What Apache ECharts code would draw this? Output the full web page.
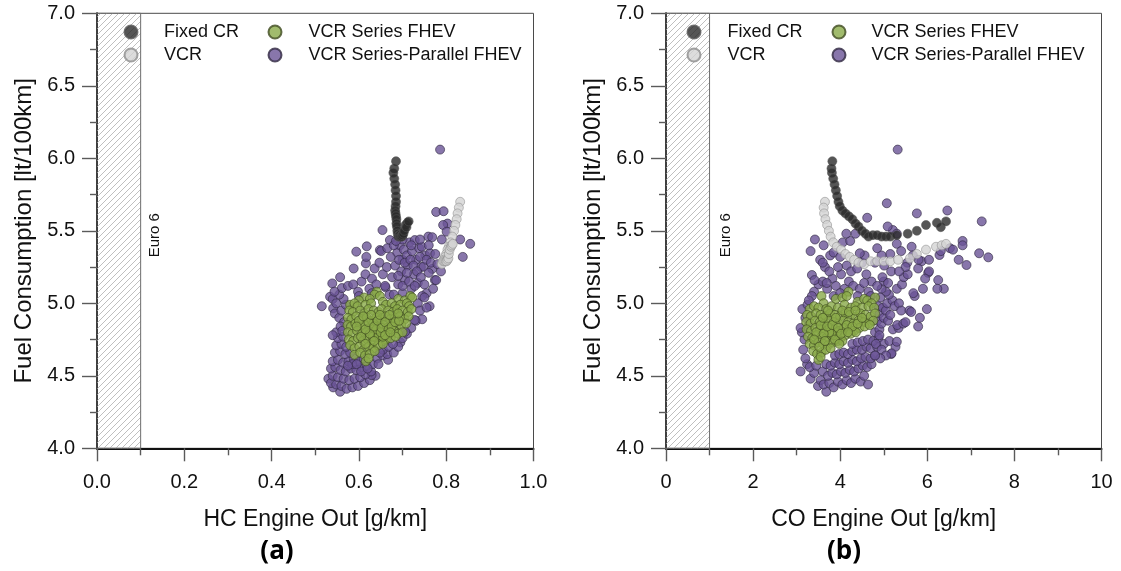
<!DOCTYPE html>
<html><head><meta charset="utf-8">
<script src="https://cdn.jsdelivr.net/npm/echarts@6/dist/echarts.min.js"></script>
<style>html,body{margin:0;padding:0;background:#fff}#c{width:1121px;height:571px}</style>
</head><body><div id="c"></div>
<script>
// ---------- DATA ----------
const seriesNames = ['Fixed CR','VCR','VCR Series FHEV','VCR Series-Parallel FHEV'];
const panelLabels = ['(a)','(b)'];
const xTitles = ['HC Engine Out [g/km]','CO Engine Out [g/km]'];
const yTitle = 'Fuel Consumption [lt/100km]';
const euroLimits = [0.1, 1.0];
const euroLabel = 'Euro 6';

// Fixed CR sweep (shared fuel consumption)
const fixedCrFC = [5.98,5.93,5.90,5.86,5.82,5.78,5.74,5.70,5.67,5.64,5.62,5.60,5.58,5.55,5.53,5.50,5.48,5.46,5.47,5.47,5.46,5.46,5.46,5.47,5.48,5.50,5.54,5.555,5.525,5.565];
const fixedCrHC = [0.685,0.681,0.679,0.681,0.683,0.684,0.685,0.685,0.684,0.683,0.684,0.685,0.686,0.686,0.687,0.688,0.689,0.690,0.692,0.694,0.695,0.697,0.699,0.700,0.702,0.704,0.707,0.711,0.709,0.714];
const fixedCrCO = [3.82,3.80,3.81,3.84,3.87,3.90,3.93,3.96,3.99,4.05,4.12,4.20,4.28,4.35,4.42,4.50,4.58,4.65,4.75,4.85,4.95,5.05,5.15,5.30,5.55,5.76,5.97,6.22,6.31,6.43];

// VCR sweep
const vcrFC = [5.70,5.66,5.62,5.58,5.54,5.50,5.46,5.42,5.39,5.37,5.34,5.32,5.30,5.28,5.27,5.29,5.29,5.29,5.29,5.30,5.31,5.34,5.37,5.39,5.40,5.41];
const vcrHC = [0.832,0.829,0.826,0.824,0.821,0.818,0.814,0.810,0.806,0.803,0.800,0.797,0.794,0.791,0.790,0.793,0.796,0.799,0.801,0.803,0.805,0.806,0.808,0.811,0.813,0.815];
const vcrCO = [3.65,3.62,3.63,3.66,3.70,3.74,3.78,3.84,3.92,4.02,4.12,4.22,4.32,4.42,4.55,4.70,4.85,5.00,5.15,5.33,5.60,5.76,5.97,6.20,6.33,6.43];

// VCR Series FHEV, HC panel [HC, FC]
const hcSeries = [
[0.612,5.04],[0.641,5.08],[0.636,5.06],[0.648,5.05],[0.690,5.03],[0.705,5.02],[0.718,5.05],[0.722,5.04],[0.600,5.02],[0.625,5.03],
[0.580,4.99],[0.590,5.00],[0.597,4.98],[0.615,4.99],[0.628,5.00],[0.655,5.01],[0.662,4.99],[0.675,5.00],[0.683,4.98],[0.695,4.99],[0.710,5.00],[0.715,4.98],
[0.578,4.95],[0.586,4.94],[0.603,4.95],[0.612,4.93],[0.622,4.96],[0.634,4.95],[0.645,4.94],[0.652,4.96],[0.667,4.95],[0.678,4.94],[0.688,4.96],[0.700,4.95],[0.712,4.94],[0.720,4.96],
[0.575,4.90],[0.583,4.89],[0.594,4.91],[0.606,4.89],[0.618,4.90],[0.629,4.88],[0.640,4.90],[0.651,4.89],[0.661,4.91],[0.672,4.89],[0.683,4.90],[0.694,4.91],[0.705,4.89],[0.714,4.91],
[0.574,4.85],[0.582,4.84],[0.592,4.86],[0.603,4.84],[0.613,4.85],[0.624,4.83],[0.633,4.86],[0.644,4.84],[0.655,4.85],[0.664,4.83],[0.676,4.86],[0.686,4.84],[0.697,4.85],[0.708,4.86],
[0.575,4.80],[0.585,4.79],[0.596,4.81],[0.607,4.79],[0.617,4.80],[0.627,4.78],[0.638,4.81],[0.648,4.79],[0.659,4.80],[0.669,4.78],[0.680,4.81],[0.690,4.79],[0.700,4.80],
[0.577,4.75],[0.587,4.74],[0.598,4.76],[0.609,4.74],[0.620,4.75],[0.630,4.73],[0.641,4.76],[0.652,4.74],[0.662,4.75],[0.673,4.76],[0.684,4.77],
[0.580,4.71],[0.590,4.69],[0.601,4.70],[0.611,4.68],[0.622,4.70],[0.633,4.69],[0.644,4.71],[0.655,4.72],
[0.590,4.645],[0.603,4.66],[0.614,4.64],[0.625,4.65],[0.636,4.67],[0.616,4.60],[0.622,4.62],
[0.632,4.77],[0.645,4.78],[0.655,4.77],[0.640,4.82],[0.650,4.80],[0.625,4.79],
[0.605,4.77],[0.615,4.82],[0.622,4.87],[0.635,4.84],[0.643,4.88],[0.652,4.83],[0.660,4.87],[0.668,4.82],[0.675,4.84],[0.683,4.87],[0.692,4.88],[0.628,4.92],[0.648,4.92],[0.670,4.92],[0.690,4.93],[0.600,4.88],[0.610,4.91],[0.595,4.84],[0.660,4.78],[0.635,4.74],[0.615,4.72],[0.672,4.80]
];

// VCR Series-Parallel FHEV, HC panel [HC, FC]
const hcSeriesParallel = [
[0.557,4.39],[0.541,4.42],[0.530,4.48],[0.536,4.45],[0.548,4.44],[0.560,4.43],[0.572,4.41],[0.585,4.42],[0.598,4.43],[0.612,4.45],[0.625,4.47],[0.638,4.50],[0.629,4.505],
[0.540,4.50],[0.552,4.49],[0.565,4.48],[0.578,4.47],[0.590,4.48],[0.603,4.49],[0.615,4.51],[0.628,4.53],
[0.536,4.55],[0.546,4.56],[0.558,4.54],[0.570,4.53],[0.582,4.55],[0.594,4.54],[0.606,4.56],[0.618,4.57],[0.632,4.58],
[0.540,4.60],[0.552,4.61],[0.564,4.59],[0.576,4.60],[0.588,4.62],[0.600,4.60],[0.611,4.62],[0.642,4.62],[0.655,4.64],
[0.545,4.66],[0.557,4.67],[0.569,4.65],[0.580,4.66],[0.548,4.71],[0.560,4.72],[0.571,4.70],[0.552,4.76],[0.564,4.77],[0.548,4.80],[0.540,4.78],
[0.585,4.58],[0.575,4.57],[0.595,4.58],[0.605,4.53],[0.620,4.55],
[0.667,4.61],[0.665,4.65],[0.680,4.66],[0.695,4.73],[0.690,4.70],[0.655,4.68],[0.668,4.70],[0.678,4.72],[0.700,4.76],[0.710,4.79],[0.720,4.83],[0.648,4.66],[0.645,4.58],
[0.515,4.98],[0.541,4.965],[0.534,5.045],[0.540,5.03],[0.545,4.93],[0.555,4.90],[0.560,4.95],[0.566,4.87],[0.558,4.84],[0.570,4.99],[0.565,5.03],[0.555,5.06],[0.548,5.00],[0.562,4.81],
[0.539,5.137],[0.557,5.18],[0.561,5.105],[0.544,5.08],[0.575,5.12],[0.588,5.24],[0.594,5.356],[0.587,5.13],[0.598,5.08],[0.606,5.15],[0.616,5.275],[0.617,5.32],[0.618,5.393],[0.615,5.20],[0.624,5.10],[0.630,5.17],[0.636,5.24],[0.647,5.28],[0.648,5.367],[0.651,5.36],[0.654,5.505],[0.655,5.20],[0.661,5.11],[0.664,5.25],[0.671,5.436],[0.673,5.32],[0.676,5.18],[0.683,5.26],[0.688,5.35],[0.690,5.13],[0.694,5.40],[0.697,5.22],[0.700,5.30],[0.703,5.37],[0.706,5.16],[0.710,5.33],[0.712,5.26],[0.716,5.42],[0.720,5.10],[0.722,5.36],[0.726,5.20],[0.728,5.436],[0.731,5.30],[0.735,5.14],[0.738,5.38],[0.742,5.25],[0.744,5.39],[0.748,5.252],[0.752,5.33],[0.755,5.07],[0.759,5.46],[0.763,5.345],[0.768,5.237],[0.768,5.456],[0.774,5.16],[0.760,5.40],[0.745,5.05],[0.735,5.00],[0.740,4.95],[0.731,4.879],[0.745,4.89],[0.750,5.04],[0.728,4.885],[0.706,4.804],
[0.600,5.05],[0.630,5.07],[0.670,5.06],[0.700,5.07],[0.660,5.12],[0.640,5.13],[0.690,5.19],[0.710,5.21],[0.680,5.06],
[0.665,5.38],[0.680,5.40],[0.692,5.30],[0.705,5.28],[0.718,5.30],[0.725,5.26],[0.733,5.22],[0.740,5.32],[0.755,5.30],[0.700,5.12],[0.715,5.15],[0.728,5.12],[0.742,5.18],[0.750,5.13],[0.760,5.21],[0.765,5.28],[0.740,5.44],[0.720,5.40],[0.700,5.44],[0.685,5.43],
[0.786,6.06],[0.777,5.63],[0.794,5.635],[0.803,5.55],[0.855,5.41],[0.838,5.32],[0.832,5.44],[0.777,5.16],[0.790,5.44],[0.775,5.34],[0.780,5.27],[0.788,5.22],[0.770,5.10],[0.762,4.98],[0.755,4.97],[0.793,5.54],[0.801,5.494]
];

// VCR Series FHEV, CO panel [CO, FC]
const coSeries = [
[3.57,5.05],[3.62,5.00],[3.90,5.03],[4.05,5.04],[4.19,5.08],[4.15,5.05],[4.40,5.01],[4.55,5.03],[4.62,5.02],[4.80,5.04],[4.72,5.00],
[3.30,4.96],[3.40,4.98],[3.50,4.97],[3.68,4.96],[3.80,4.98],[3.95,4.97],[4.10,4.99],[4.25,4.97],[4.35,4.98],[4.50,4.97],[4.65,4.98],[4.78,4.97],
[3.24,4.92],[3.33,4.91],[3.45,4.93],[3.55,4.92],[3.66,4.91],[3.77,4.93],[3.88,4.92],[4.00,4.91],[4.12,4.93],[4.23,4.92],[4.35,4.91],[4.46,4.93],[4.58,4.92],[4.70,4.91],[4.80,4.93],
[3.22,4.87],[3.32,4.86],[3.42,4.88],[3.53,4.87],[3.64,4.86],[3.74,4.88],[3.85,4.87],[3.96,4.86],[4.07,4.88],[4.18,4.87],[4.30,4.86],[4.42,4.88],[4.54,4.87],[4.66,4.86],[4.76,4.88],
[3.23,4.82],[3.33,4.81],[3.43,4.83],[3.54,4.82],[3.65,4.81],[3.76,4.83],[3.87,4.82],[3.98,4.81],[4.09,4.83],[4.20,4.82],[4.32,4.81],[4.44,4.83],[4.56,4.84],[4.68,4.85],
[3.26,4.77],[3.36,4.76],[3.46,4.78],[3.57,4.77],[3.68,4.76],[3.79,4.78],[3.90,4.77],[4.01,4.76],[4.12,4.78],[4.24,4.79],[4.36,4.80],
[3.30,4.72],[3.40,4.71],[3.50,4.73],[3.61,4.72],[3.72,4.71],[3.83,4.73],[3.94,4.74],[4.05,4.74],
[3.38,4.67],[3.47,4.65],[3.57,4.66],[3.67,4.68],[3.78,4.69],[3.50,4.61],[3.55,4.63],
[3.85,4.78],[3.92,4.80],[3.80,4.79],[3.88,4.75],[3.75,4.80],
[3.45,4.80],[3.55,4.85],[3.62,4.79],[3.70,4.84],[3.82,4.85],[3.95,4.83],[4.02,4.79],[4.15,4.85],[4.28,4.84],[4.40,4.86],[4.50,4.90],[3.60,4.90],[3.72,4.95],[3.90,4.90],[4.05,4.95],[4.20,4.94],[4.35,4.95],[3.40,4.75],[3.52,4.70],[3.65,4.74],[3.98,4.72],[4.18,4.80]
];

// VCR Series-Parallel FHEV, CO panel [CO, FC]
const coSeriesParallel = [
[3.09,4.53],[3.24,4.58],[3.32,4.48],[3.49,4.43],[3.68,4.39],[3.40,4.52],[3.55,4.47],[3.62,4.44],[3.75,4.45],[3.85,4.42],[3.95,4.46],[4.05,4.44],[4.15,4.47],[4.25,4.45],[4.35,4.48],[4.47,4.46],[4.64,4.44],[4.55,4.50],
[3.20,4.62],[3.30,4.56],[3.45,4.57],[3.60,4.53],[3.72,4.50],[3.82,4.52],[3.92,4.51],[4.02,4.53],[4.12,4.52],[4.22,4.54],[4.32,4.53],[4.42,4.55],[4.52,4.57],[4.62,4.56],[4.72,4.58],
[3.68,4.58],[3.78,4.57],[3.88,4.59],[3.98,4.58],[4.08,4.60],[4.18,4.59],[4.28,4.61],[4.38,4.60],[4.48,4.62],[4.58,4.63],[4.70,4.62],[4.80,4.64],
[3.88,4.64],[3.98,4.65],[4.08,4.66],[4.18,4.65],[4.28,4.67],[4.38,4.68],[4.50,4.68],[4.60,4.70],[4.70,4.69],[4.85,4.70],
[4.28,4.72],[4.40,4.73],[4.52,4.74],[4.64,4.75],[4.76,4.74],[4.88,4.76],[5.00,4.72],
[3.15,4.68],[3.18,4.75],[3.12,4.80],[3.09,4.83],[3.28,4.85],[3.13,4.96],[3.20,4.90],[3.25,4.99],
[4.80,4.80],[4.90,4.82],[4.85,4.88],[4.95,4.86],[4.90,4.93],[5.00,4.90],[4.88,4.98],[4.98,4.97],[5.05,4.95],[5.13,4.74],[5.17,4.65],[5.27,4.70],[5.21,4.82],[5.34,4.83],[5.18,4.655],[5.30,4.735],[5.31,4.85],[5.45,4.86],[5.50,4.87],[5.10,4.88],[5.15,4.92],[5.08,5.00],[5.20,5.02],[5.12,5.06],[5.25,4.98],[5.35,5.00],[5.40,4.95],[5.59,4.95],[5.63,4.94],[5.71,5.05],[5.68,5.07],[5.79,4.84],[5.83,4.90],[5.99,4.96],[5.05,5.08],[4.95,5.10],[4.92,5.04],[5.00,5.15],[5.30,5.10],[5.42,5.13],[5.46,5.18],[5.55,5.20],[5.17,5.22],[4.97,5.18],[4.72,5.15],[4.85,5.12],[5.10,5.14],[4.90,4.78],[4.82,4.72],[4.95,4.68],[5.05,4.64],[4.92,4.62],[4.80,4.64],
[3.42,5.44],[3.32,5.36],[3.54,5.30],[3.65,5.25],[3.77,5.33],[3.82,5.17],[4.02,5.20],[3.50,5.13],[3.40,5.08],[3.60,5.15],[3.70,5.10],[3.90,5.12],[4.10,5.10],[4.20,5.15],[4.30,5.12],[4.45,5.10],[4.55,5.14],[4.65,5.08],[3.95,5.25],[4.15,5.26],[4.25,5.22],[4.39,5.24],[4.50,5.28],[4.60,5.20],[4.80,5.28],[5.01,5.26],[4.56,5.33],[4.06,5.42],[4.23,5.43],[4.35,5.48],[4.14,5.48],[3.60,5.28],[3.75,5.22],[3.85,5.05],[4.00,5.07],[3.35,5.05],[3.28,5.02],[4.70,5.05],[4.40,5.05],[3.62,5.40],[3.85,5.35],[3.35,5.195],[3.41,5.16],[3.69,5.14],[4.00,5.32],[4.45,5.345],
[5.32,6.06],[5.07,5.69],[4.62,5.59],[5.76,5.62],[6.46,5.64],[7.25,5.565],[5.21,5.505],[5.09,5.53],[5.30,5.41],[5.30,5.48],[5.64,5.39],[5.67,5.33],[5.54,5.28],[5.87,5.29],[6.04,5.30],[6.28,5.333],[6.31,5.36],[6.52,5.38],[6.59,5.37],[6.81,5.43],[6.81,5.40],[7.19,5.345],[7.40,5.317],[6.90,5.264],[6.72,5.30],[6.02,5.21],[6.04,5.22],[5.79,5.24],[5.95,5.17],[6.25,5.16],[6.38,5.10],[6.23,5.10],[5.80,5.30],[5.40,5.36],[5.15,5.34],[4.95,5.33],[4.85,5.38],[5.50,5.25],[5.35,5.22],[5.90,5.10]
];

// ---------- CHART ----------
const FONT = '"Liberation Sans", Arial, sans-serif';
const zip = (xs, ys) => xs.map((x, i) => [x, ys[i]]);

function hatchCanvas() {
  const s = 6, c = document.createElement('canvas');
  c.width = s; c.height = s;
  const g = c.getContext('2d');
  g.strokeStyle = '#b8b8b8'; g.lineWidth = 0.9;
  g.beginPath();
  g.moveTo(0, s); g.lineTo(s, 0);
  g.moveTo(-1, 1); g.lineTo(1, -1);
  g.moveTo(s - 1, s + 1); g.lineTo(s + 1, s - 1);
  g.stroke();
  return c;
}
const hatch = hatchCanvas();

const styles = {
  'Fixed CR': {color: '#2a2a2a', borderColor: '#555555', borderWidth: 0.7},
  'VCR': {color: '#d3d3d3', borderColor: '#8c8c8c', borderWidth: 0.7},
  'VCR Series FHEV': {color: '#89aa48', borderColor: '#3e4a20', borderWidth: 0.8},
  'VCR Series-Parallel FHEV': {color: '#6a5496', borderColor: '#302840', borderWidth: 0.8}
};

const panels = [
  {fixed: zip(fixedCrHC, fixedCrFC), vcr: zip(vcrHC, vcrFC), ser: hcSeries, sp: hcSeriesParallel,
   xmax: 1.0, xint: 0.2, fmt: v => v.toFixed(1), left: 97, right: 1121 - 533.5},
  {fixed: zip(fixedCrCO, fixedCrFC), vcr: zip(vcrCO, vcrFC), ser: coSeries, sp: coSeriesParallel,
   xmax: 10, xint: 2, fmt: v => String(v), left: 666, right: 1121 - 1101.5}
];

const grid = [], xAxis = [], yAxis = [], series = [];
const tickStyle = {color: '#5a5a5a', width: 1.4};
panels.forEach((p, i) => {
  grid.push({left: p.left, right: p.right, top: 13.3, bottom: 571 - 448.3, show: true,
             borderColor: '#4a4a4a', borderWidth: 1, backgroundColor: 'transparent'});
  xAxis.push({gridIndex: i, type: 'value', min: 0, max: p.xmax, interval: p.xint,
    axisLine: {show: true, onZero: false, lineStyle: {color: '#111', width: 2}},
    axisTick: {show: true, inside: false, length: 13, lineStyle: tickStyle},
    minorTick: {show: true, splitNumber: 2, length: 7, lineStyle: tickStyle},
    splitLine: {show: false}, minorSplitLine: {show: false},
    axisLabel: {margin: 24, fontSize: 20, color: '#111', fontFamily: FONT, formatter: p.fmt},
    name: xTitles[i], nameLocation: 'middle', nameGap: 60,
    nameTextStyle: {fontSize: 23, color: '#111', fontFamily: FONT}});
  yAxis.push({gridIndex: i, type: 'value', min: 4, max: 7, interval: 0.5,
    axisLine: {show: true, onZero: false, lineStyle: {color: '#111', width: 2}},
    axisTick: {show: true, inside: false, length: 15, lineStyle: tickStyle},
    minorTick: {show: true, splitNumber: 2, length: 7, lineStyle: tickStyle},
    splitLine: {show: false}, minorSplitLine: {show: false},
    axisLabel: {margin: 22, fontSize: 20, color: '#111', fontFamily: FONT, formatter: v => v.toFixed(1)},
    name: yTitle, nameLocation: 'middle', nameGap: 61,
    nameTextStyle: {fontSize: 24, color: '#111', fontFamily: FONT}});

  const base = {type: 'scatter', xAxisIndex: i, yAxisIndex: i, symbol: 'circle', symbolSize: 9, silent: true};
  series.push(Object.assign({}, base, {
    name: 'VCR Series-Parallel FHEV', data: p.sp, itemStyle: styles['VCR Series-Parallel FHEV'],
    markArea: {silent: true, itemStyle: {color: {image: hatch, repeat: 'repeat'}, borderColor: '#6e6e6e', borderWidth: 1},
      data: [[{xAxis: 0, yAxis: 4}, {xAxis: euroLimits[i], yAxis: 7}]]},
    markPoint: {silent: true, symbol: 'circle', symbolSize: 1, itemStyle: {color: 'transparent'},
      label: {show: true, formatter: euroLabel, rotate: 90, fontSize: 15, color: '#111', fontFamily: FONT,
              position: 'inside', offset: [0, i === 0 ? 14 : 16]},
      data: [{coord: [euroLimits[i], 5.47]}]}
  }));
  series.push(Object.assign({}, base, {name: 'VCR Series FHEV', data: p.ser, itemStyle: styles['VCR Series FHEV']}));
  series.push(Object.assign({}, base, {name: 'Fixed CR', data: p.fixed, itemStyle: styles['Fixed CR']}));
  series.push(Object.assign({}, base, {name: 'VCR', data: p.vcr, itemStyle: styles['VCR']}));
});

function legend(names, left, pad) {
  return {data: names, orient: 'vertical', left: left, top: 17, itemWidth: 13, itemHeight: 13, itemGap: 3,
    icon: 'circle', selectedMode: false,
    textStyle: {fontSize: 18, lineHeight: 20, color: '#111', fontFamily: FONT, padding: [0, 0, 0, pad]}};
}

const chart = echarts.init(document.getElementById('c'), null, {renderer: 'canvas'});
chart.setOption({
  animation: false,
  backgroundColor: '#fff',
  grid, xAxis, yAxis, series,
  legend: [
    legend(seriesNames.slice(0, 2), 118.5, 21.5),
    legend(seriesNames.slice(2), 262.5, 22),
    legend(seriesNames.slice(0, 2), 681.5, 22),
    legend(seriesNames.slice(2), 826.5, 21)
  ],
  graphic: [
    {type: 'text', x: 277, y: 552, style: {text: panelLabels[0], font: 'bold 26px "Open Sans", sans-serif', fill: '#000', textAlign: 'center', textVerticalAlign: 'middle', align: 'center', verticalAlign: 'middle'}},
    {type: 'text', x: 844, y: 552, style: {text: panelLabels[1], font: 'bold 26px "Open Sans", sans-serif', fill: '#000', textAlign: 'center', textVerticalAlign: 'middle', align: 'center', verticalAlign: 'middle'}}
  ]
});
</script></body></html>
